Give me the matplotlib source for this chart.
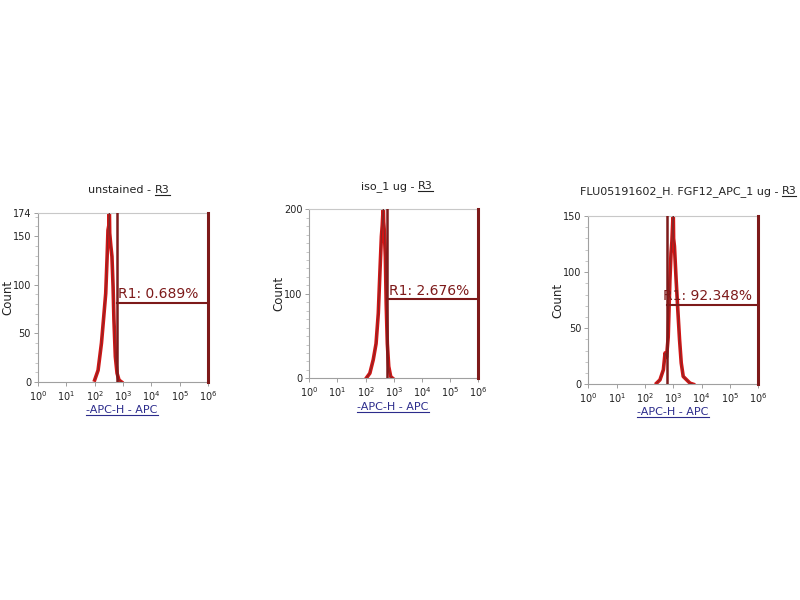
import matplotlib
matplotlib.use('Agg')
import matplotlib.pyplot as plt
from matplotlib.lines import Line2D
from matplotlib.ticker import MultipleLocator, NullFormatter
import numpy as np

# sample names and gate results
titles = ['unstained -', 'iso_1 ug -', 'FLU05191602_H. FGF12_APC_1 ug -']
gate_labels = ['R1: 0.689%', 'R1: 2.676%', 'R1: 92.348%']
ymax = [174, 200, 150]
yticks = [[0, 50, 100, 150, 174], [0, 100, 200], [0, 50, 100, 150]]
gate_start = [2.79, 2.77, 2.79]      # log10 of the gate's left edge
gate_height = [81, 93.5, 70.7]
label_pos = [2.84, 2.82, 2.64]

# histogram outlines: log10(APC-H) and counts
hist1_x = [2.0, 2.12, 2.24, 2.32, 2.39, 2.44, 2.47, 2.50, 2.51, 2.52, 2.53, 2.57, 2.61, 2.65, 2.68, 2.73, 2.79, 2.86, 2.95]
hist1_y = [2, 12, 40, 67, 91, 129, 156, 161, 174, 174, 153, 140, 129, 98, 64, 26, 9, 2, 0]
hist2_x = [2.04, 2.15, 2.27, 2.37, 2.45, 2.51, 2.56, 2.59, 2.62, 2.63, 2.64, 2.66, 2.70, 2.73, 2.77, 2.82, 2.89, 2.96]
hist2_y = [1, 6, 22, 41, 77, 128, 168, 181, 200, 200, 185, 176, 144, 89, 41, 14, 2, 0]
hist3_x = [2.41, 2.53, 2.65, 2.71, 2.76, 2.82, 2.88, 2.92, 2.95, 2.99, 3.0, 3.01, 3.04, 3.10, 3.16, 3.22, 3.28, 3.35, 3.47, 3.59, 3.71]
hist3_y = [1, 4, 13, 28, 24, 42, 93, 117, 127, 150, 150, 130, 123, 93, 66, 40, 19, 7, 4, 1, 0]
hists = [(hist1_x, hist1_y), (hist2_x, hist2_y), (hist3_x, hist3_y)]

decades = [0, 1, 2, 3, 4, 5, 6]

W, H = 800, 600
fig = plt.figure(figsize=(8, 6), dpi=100)
fig.patch.set_facecolor('white')

boxes = [(38, 212.7, 170, 169.3), (309.3, 209.3, 169, 169), (588.3, 216, 170, 168.3)]
title_pos = [(129, 193), (397, 189), (688, 194)]
xlabel_pos = [(122, 413), (393, 410), (673, 415)]

gate_col = '#7d1a1a'
hist_col = '#d01515'
blue = '#2c2c8c'


def put_parts(xc, ybase, parts, size, gap=3.5):
    # text in pieces so some pieces can be underlined
    r = fig.canvas.get_renderer()
    objs = []
    for s, u, c in parts:
        objs.append(fig.text(0, 1 - ybase / H, s, fontsize=size, color=c, ha='left', va='baseline'))
    widths = [o.get_window_extent(r).width for o in objs]
    x = xc - (sum(widths) + gap * (len(parts) - 1)) / 2
    for o, w, (s, u, c) in zip(objs, widths, parts):
        o.set_x(x / W)
        if u:
            fig.add_artist(Line2D([x / W, (x + w) / W], [1 - (ybase + 2) / H] * 2, color=c, lw=0.8))
        x += w + gap


for i in range(3):
    l, t, w, h = boxes[i]
    ax = fig.add_axes([l / W, 1 - (t + h) / H, w / W, h / H])
    xs = 10 ** np.array(hists[i][0])
    ax.plot(xs, hists[i][1], color=hist_col, lw=2.6, zorder=2)
    ax.plot(xs, hists[i][1], color='#7a2a2a', lw=0.6, zorder=3)

    # gate R1
    g = 10 ** gate_start[i]
    ax.axvline(g, color=gate_col, lw=1.8, zorder=4)
    ax.axvline(1e6, color=gate_col, lw=2.2, zorder=4, clip_on=False)
    ax.plot([g, 1e6], [gate_height[i]] * 2, color=gate_col, lw=1.5, zorder=4)
    ax.text(10 ** label_pos[i], gate_height[i] + 2, gate_labels[i], color=gate_col,
            fontsize=10, ha='left', va='bottom', zorder=5)

    ax.set_xscale('log')
    ax.set_xlim(1, 1e6)
    ax.set_ylim(0, ymax[i])
    ax.set_xticks([10.0 ** d for d in decades])
    ax.set_xticklabels([r'$\mathregular{10^{%d}}$' % d for d in decades])
    ax.xaxis.set_minor_formatter(NullFormatter())
    ax.set_yticks(yticks[i])
    ax.yaxis.set_minor_locator(MultipleLocator(10))

    for s in ax.spines.values():
        s.set_color('#a0a0a0')
        s.set_linewidth(0.8)
    ax.spines['top'].set_color('#c8c8c8')
    ax.tick_params(which='major', length=3, width=0.6, color='#909090', labelsize=7,
                   labelcolor='#222222', pad=2)
    ax.tick_params(which='minor', length=2, width=0.5, color='#b0b0b0')
    ax.set_ylabel('Count', fontsize=8.5, color='#222222')
    ax.yaxis.set_label_coords(-0.14, 0.5)

    tx, ty = title_pos[i]
    put_parts(tx, ty, [(titles[i], False, '#222222'), ('R3', True, '#222222')], 8)
    lx, ly = xlabel_pos[i]
    put_parts(lx, ly, [('-APC-H - APC', True, blue)], 8)

fig.savefig('out.png', dpi=100, facecolor='white')
